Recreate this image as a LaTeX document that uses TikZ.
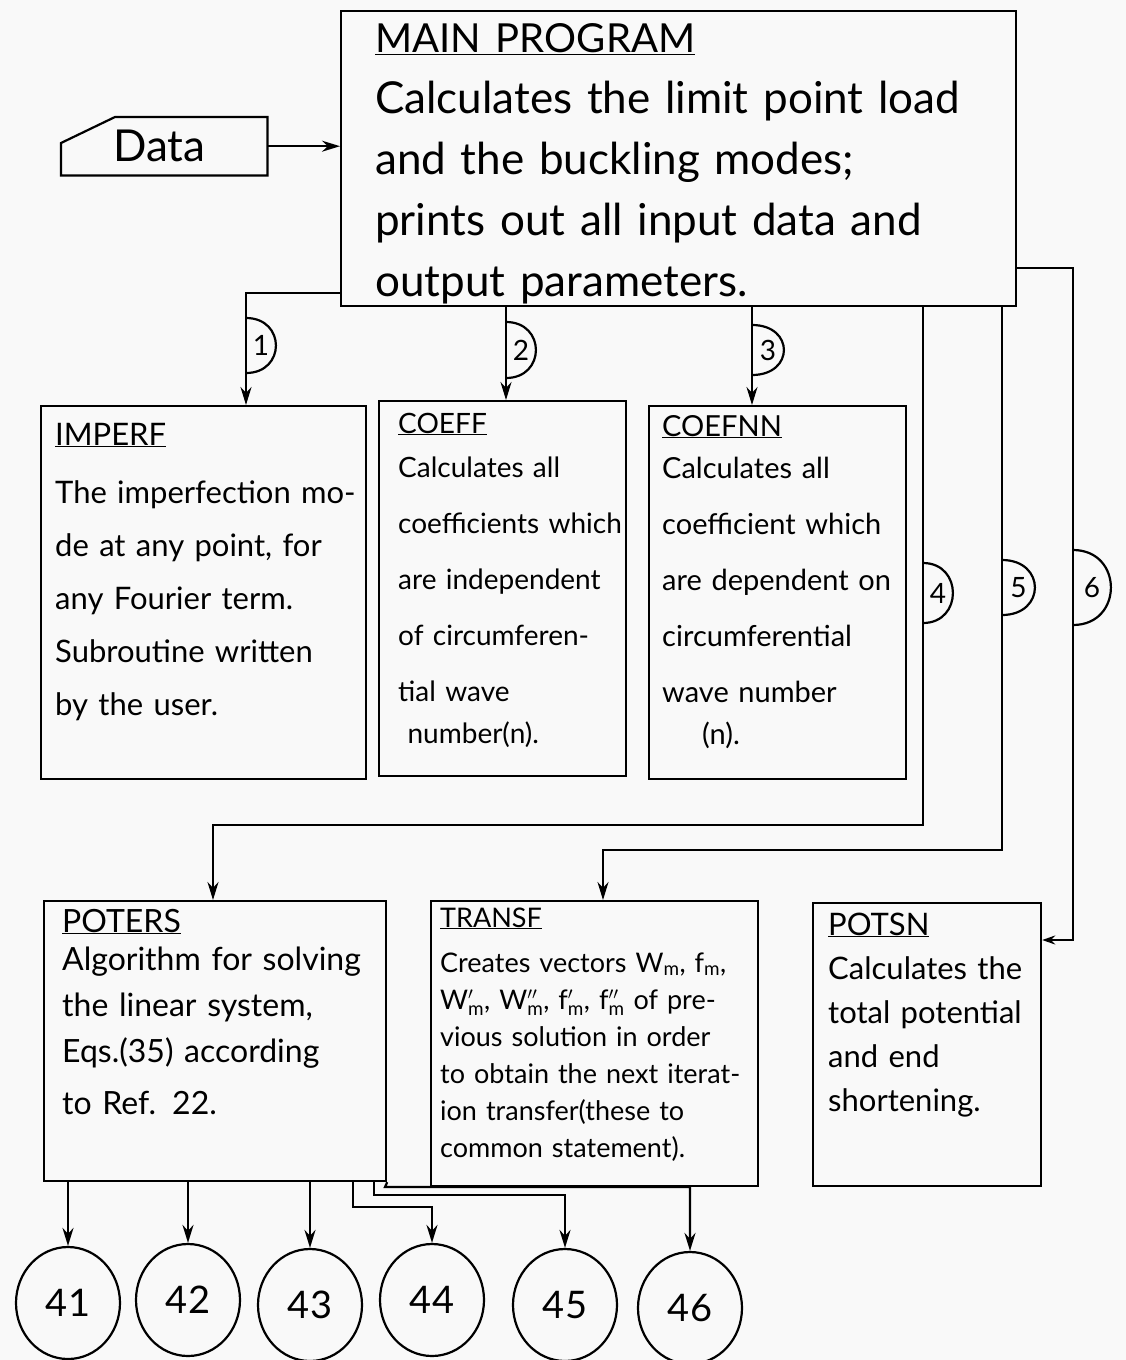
\documentclass[tikz,border=0pt]{standalone}
\usepackage{fontspec}
\setmainfont{Lato}
\usetikzlibrary{arrows.meta,shapes.geometric,calc}
\tikzset{
 box/.style={draw, line width=2.2pt, rectangle, inner sep=0pt, anchor=north west},
 conn/.style={line width=2.2pt, -{Stealth[length=18pt,width=11pt]}},
 wire/.style={line width=2.2pt},
 txt/.style={anchor=base west, inner sep=0pt, align=left, text width=660pt},
 bubble/.style={draw, ellipse, line width=2.2pt, minimum width=104pt, minimum height=112pt, inner sep=0pt, font=\fontsize{38}{38}\selectfont},
 lab/.style={inner sep=0pt, font=\fontsize{28}{28}\selectfont},
}
\newcommand{\dlab}[5]{%
 \pgfmathsetmacro{\dlabcx}{#1+1.33*#4}%
 \pgfmathsetmacro{\dlabmx}{#1+0.5*#4}%
 \pgfmathsetmacro{\dlabmy}{(#2+#3)/2}%
 \draw[wire] (#1,#2) .. controls (\dlabcx,#2) and (\dlabcx,#3) .. (#1,#3);
 \node[lab] (l#5) at (\dlabmx,\dlabmy) {#5};
}
\begin{document}
\begin{tikzpicture}[x=1pt,y=-1pt]
\fill[gray!5] (0,0) rectangle (1126,1360);
\useasboundingbox (0,0) rectangle (1126,1360);

% boxes
\node[box, minimum width=675pt, minimum height=295pt] (main) at (340,10) {};
\node[inner sep=0pt, minimum width=206pt, minimum height=58pt, anchor=north west, font=\fontsize{44}{44}\selectfont] (data) at (61,117) {\hspace{-10pt}Data};
\draw[wire] (data.south west) -- ($(data.north west)+(0,26)$) -- ($(data.north west)+(54,0)$) -- (data.north east) -- (data.south east) -- cycle;

\node[box, minimum width=325pt, minimum height=373pt] (imperf) at (40,405) {};
\node[box, minimum width=247pt, minimum height=375pt] (coeff) at (378,400) {};
\node[box, minimum width=257pt, minimum height=373pt] (coefnn) at (648,405) {};
\node[box, minimum width=342pt, minimum height=280pt] (poters) at (43,900) {};
\node[box, minimum width=327pt, minimum height=285pt] (transf) at (430,900) {};
\node[box, minimum width=228pt, minimum height=283pt] (potsn) at (812,902) {};

% texts
\node[txt, font=\fontsize{44}{61}\selectfont] (maint) at (375,52) {{\fontsize{40}{40}\selectfont\underline{MAIN PROGRAM}}\\ Calculates the limit point load\\ and the buckling modes;\\ prints out all input data and\\ output parameters.};
\node[txt, font=\fontsize{31}{53}\selectfont] (imperft) at (55,445) {\underline{IMPERF}\\[5pt] The imperfection mo-\\ de at any point, for\\ any Fourier term.\\ Subroutine written\\ by the user.};
\node[txt, font=\fontsize{28}{56}\selectfont] (coefft) at (398,433) {\underline{COEFF}\\[-12pt] Calculates all\\ coefficients which\\ are independent\\ of circumferen-\\ tial wave\\[-14pt] \ number(n).};
\node[txt, font=\fontsize{29}{56}\selectfont] (coefnnt) at (662,436) {\underline{COEFNN}\\[-14pt] Calculates all\\ coefficient which\\ are dependent on\\ circumferential\\ wave number\\[-14pt] \hspace{40pt}(n).};
\node[txt, font=\fontsize{32}{46}\selectfont] (posterst) at (62,932) {\underline{POTERS}\\[-8pt] Algorithm for solving\\ the linear system,\\ Eqs.(35) according\\[6pt] to Ref. 22.};
\node[txt, font=\fontsize{27}{37}\selectfont] (transft) at (440,927) {\underline{TRANSF}\\[8pt] Creates vectors W$_{\mathrm m}$, f$_{\mathrm m}$,\\ W$'_{\mathrm m}$, W$''_{\mathrm m}$, f$'_{\mathrm m}$, f$''_{\mathrm m}$ of pre-\\ vious solution in order\\ to obtain the next iterat-\\ ion transfer(these to\\ common statement).};
\node[txt, font=\fontsize{31}{44}\selectfont] (potsnt) at (828,935) {\underline{POTSN}\\ Calculates the\\ total potential\\ and end\\ shortening.};

% bubbles
\node[bubble] (b41) at (68,1303) {41};
\node[bubble] (b42) at (188,1300) {42};
\node[bubble] (b43) at (310,1305) {43};
\node[bubble] (b44) at (432,1300) {44};
\node[bubble] (b45) at (565,1305) {45};
\node[bubble] (b46) at (690,1308) {46};

% connectors
\draw[conn] (data.east) -- (data.east -| main.west);
\coordinate (k1) at (246,293);
\draw[conn] (main.west |- k1) -- (k1) -- (k1 |- imperf.north);
\coordinate (k2) at (506,0);
\draw[conn] (k2 |- main.south) -- (k2 |- coeff.north);
\coordinate (k3) at (752,0);
\draw[conn] (k3 |- main.south) -- (k3 |- coefnn.north);
\coordinate (k4) at (923,825); \coordinate (k4b) at (213,825);
\draw[conn] (k4 |- main.south) -- (k4) -- (k4b) -- (k4b |- poters.north);
\coordinate (k5) at (1002,850); \coordinate (k5b) at (603,850);
\draw[conn] (k5 |- main.south) -- (k5) -- (k5b) -- (k5b |- transf.north);
\coordinate (k6) at (1073,268); \coordinate (k6b) at (1073,940);
\draw[line width=2.2pt, -{Stealth[length=13pt,width=9pt]}] (main.east |- k6) -- (k6) -- (k6b) -- (k6b -| potsn.east);

\draw[conn] (poters.south -| b41) -- (b41.north);
\draw[conn] (poters.south -| b42) -- (b42.north);
\draw[conn] (poters.south -| b43) -- (b43.north);
\coordinate (k44) at (353,1207);
\draw[conn] (k44 |- poters.south) -- (k44) -- (k44 -| b44) -- (b44.north);
\coordinate (k45) at (374,1195);
\draw[conn] (k45 |- poters.south) -- (k45) -- (k45 -| b45) -- (b45.north);
\coordinate (k46) at (385,1187);
\draw[conn] (poters.south east) -- (k46) -- (k46 -| b46) -- (b46.north);

% labels
\dlab{246}{318}{373}{30}{1}
\dlab{506}{322}{378}{30}{2}
\dlab{752}{325}{375}{32}{3}
\dlab{923}{563}{623}{30}{4}
\dlab{1002}{560}{615}{33}{5}
\dlab{1073}{550}{625}{38}{6}
\end{tikzpicture}
\end{document}
